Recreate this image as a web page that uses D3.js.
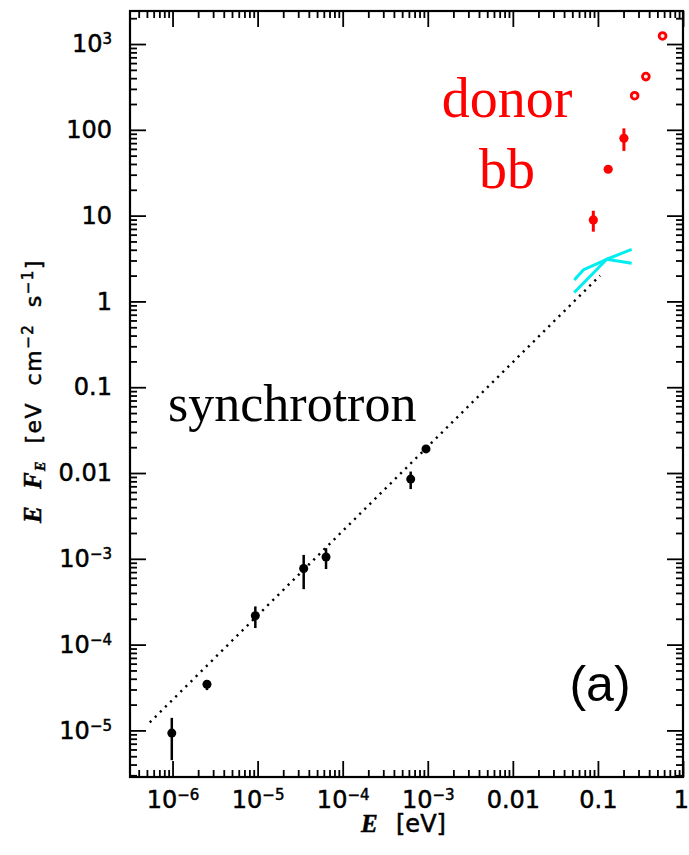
<!DOCTYPE html>
<html>
<head>
<meta charset="utf-8">
<script src="https://cdn.jsdelivr.net/npm/d3@7"></script>
<style>
  body { margin: 0; background: #fff; }
  svg { display: block; }
</style>
</head>
<body>
<svg id="chart" width="689" height="855"></svg>
<script>
// Synchrotron photometry (black points with 1-sigma bars)
const synchE  = [9.8e-7, 2.54e-6, 9.4e-6, 3.48e-5, 6.37e-5, 6.30e-4, 9.53e-4];
const synchF  = [9.3e-6, 3.45e-5, 2.17e-4, 7.7e-4, 1.05e-3, 8.5e-3, 1.91e-2];
const synchLo = [4.5e-6, 2.95e-5, 1.56e-4, 4.43e-4, 7.6e-4, 6.5e-3, 1.80e-2];
const synchHi = [1.40e-5, 3.75e-5, 2.79e-4, 1.11e-3, 1.33e-3, 1.04e-2, 2.02e-2];

// Donor star blackbody: filled points with bars, then open points
const donorE  = [0.0883, 0.132, 0.202];
const donorF  = [8.9, 34.7, 79.8];
const donorLo = [6.5, 32.5, 56.8];
const donorHi = [11.4, 37.0, 104];
const donorOpenE = [0.270, 0.366, 0.575];
const donorOpenF = [250, 417, 1242];

// Power-law bowtie (two crossing edges)
const bowUpperE = [0.0527, 0.0673, 0.127, 0.249];
const bowUpperF = [1.78, 2.33, 3.10, 2.79];
const bowLowerE = [0.0527, 0.127, 0.249];
const bowLowerF = [1.27, 3.10, 4.05];

// Synchrotron power-law model (dotted)
const modelE = [5.4e-7, 0.106];
const modelF = [1.24e-5, 2.0];

// Axis ticks and labels: [mantissa, exponent] pairs
const xTicks  = [1e-6, 1e-5, 1e-4, 1e-3, 0.01, 0.1, 1];
const xLabels = [["10", "−6"], ["10", "−5"], ["10", "−4"], ["10", "−3"], ["0.01"], ["0.1"], ["1"]];
const yTicks  = [1e-5, 1e-4, 1e-3, 0.01, 0.1, 1, 10, 100, 1000];
const yLabels = [["10", "−5"], ["10", "−4"], ["10", "−3"], ["0.01"], ["0.1"], ["1"], ["10"], ["100"], ["10", "3"]];

const svg = d3.select("#chart");
svg.append("rect").attr("width", 689).attr("height", 855).attr("fill", "#fff");

const L = 130, R = 683, T = 11, B = 777;
const x = d3.scaleLog().domain([Math.pow(10, -6.5), 1]).range([L, R]);
const y = d3.scaleLog().domain([Math.pow(10, -5.543), Math.pow(10, 3.385)]).range([B, T]);

function minorTicks(scale) {
  const [a, b] = scale.domain();
  const out = [];
  for (let d = Math.floor(Math.log10(a)); d <= Math.ceil(Math.log10(b)); d++) {
    for (let k = 2; k <= 9; k++) {
      const v = k * Math.pow(10, d);
      if (v > a && v < b) out.push(v);
    }
  }
  return out;
}
const xMinor = minorTicks(x);
const yMinor = minorTicks(y);

const MAJ = 16, MIN = 7;
const tickStroke = g => {
  g.select(".domain").remove();
  g.selectAll(".tick line").attr("stroke", "#000").attr("stroke-width", 1.8);
  g.selectAll(".tick text").remove();
};

// Inward ticks on all four sides
const axes = svg.append("g");
[[d3.axisBottom, `translate(0,${B})`, x, xTicks, MAJ], [d3.axisBottom, `translate(0,${B})`, x, xMinor, MIN],
 [d3.axisTop, `translate(0,${T})`, x, xTicks, MAJ], [d3.axisTop, `translate(0,${T})`, x, xMinor, MIN],
 [d3.axisLeft, `translate(${L},0)`, y, yTicks, MAJ], [d3.axisLeft, `translate(${L},0)`, y, yMinor, MIN],
 [d3.axisRight, `translate(${R},0)`, y, yTicks, MAJ], [d3.axisRight, `translate(${R},0)`, y, yMinor, MIN]
].forEach(([fn, tr, sc, vals, len]) => {
  axes.append("g").attr("transform", tr)
    .call(fn(sc).tickValues(vals).tickSizeInner(-len).tickSizeOuter(0).tickFormat(""))
    .call(tickStroke);
});

// Frame
svg.append("rect").attr("x", L).attr("y", T).attr("width", R - L).attr("height", B - T)
  .attr("fill", "none").attr("stroke", "#000").attr("stroke-width", 2.2);

// Tick labels with superscript exponents
const LABEL_FONT = "'DejaVu Sans', sans-serif";
function writeLabel(sel, parts) {
  sel.text(null);
  sel.append("tspan").text(parts[0]);
  if (parts.length > 1) {
    sel.append("tspan").attr("font-size", 15).attr("dy", -8).text(parts[1]);
  }
}
const xLab = svg.append("g").attr("transform", `translate(0,${B})`)
  .call(d3.axisBottom(x).tickValues(xTicks).tickSize(0).tickPadding(14).tickFormat(""));
xLab.select(".domain").remove();
xLab.selectAll(".tick text")
  .attr("font-family", LABEL_FONT).attr("font-size", 24).attr("fill", "#000")
  .attr("stroke", "#000").attr("stroke-width", 0.5)
  .attr("dx", d => d === 1 ? -2 : 0)
  .each(function (d, i) { writeLabel(d3.select(this), xLabels[i]); });

const yLab = svg.append("g").attr("transform", `translate(${L},0)`)
  .call(d3.axisLeft(y).tickValues(yTicks).tickSize(0).tickPadding(18).tickFormat(""));
yLab.select(".domain").remove();
yLab.selectAll(".tick text")
  .attr("font-family", LABEL_FONT).attr("font-size", 24).attr("fill", "#000")
  .attr("stroke", "#000").attr("stroke-width", 0.5)
  .each(function (d, i) { writeLabel(d3.select(this), yLabels[i]); });

// Axis titles
const SERIF = "'Liberation Serif', 'Times New Roman', serif";
const xt = svg.append("text").attr("x", 361).attr("y", 832)
  .attr("font-family", LABEL_FONT).attr("font-size", 24).attr("fill", "#000")
  .attr("stroke", "#000").attr("stroke-width", 0.5);
xt.append("tspan").attr("font-family", SERIF).attr("font-style", "italic").attr("font-weight", "bold")
  .attr("font-size", 25).text("E");
xt.append("tspan").attr("x", 396).text("[eV]");

const yt = svg.append("text")
  .attr("transform", "translate(41,523) rotate(-90)")
  .attr("font-family", LABEL_FONT).attr("font-size", 22).attr("fill", "#000")
  .attr("stroke", "#000").attr("stroke-width", 0.5)
  .attr("letter-spacing", 1.5).attr("word-spacing", 8);
yt.append("tspan").attr("font-family", SERIF).attr("font-style", "italic").attr("font-weight", "bold")
  .attr("font-size", 25).text("E ");
yt.append("tspan").attr("font-family", SERIF).attr("font-style", "italic").attr("font-weight", "bold")
  .attr("font-size", 25).text("F");
yt.append("tspan").attr("font-family", SERIF).attr("font-style", "italic").attr("font-weight", "bold")
  .attr("font-size", 14).attr("dy", 4).text("E");
yt.append("tspan").attr("dy", -4).text(" [eV cm");
yt.append("tspan").attr("font-size", 15).attr("dy", -8).text("−2");
yt.append("tspan").attr("dy", 8).text(" s");
yt.append("tspan").attr("font-size", 15).attr("dy", -8).text("−1");
yt.append("tspan").attr("dy", 8).text("]");

const plot = svg.append("g");

// Dotted model line
plot.append("path")
  .datum(modelE.map((e, i) => [e, modelF[i]]))
  .attr("d", d3.line().x(d => x(d[0])).y(d => y(d[1])))
  .attr("fill", "none").attr("stroke", "#000").attr("stroke-width", 2.4)
  .attr("stroke-dasharray", "2.2 5");

// Bowtie edges
const CYAN = "#00eef0";
[[bowUpperE, bowUpperF], [bowLowerE, bowLowerF]].forEach(([es, fs]) => {
  plot.append("path")
    .datum(es.map((e, i) => [e, fs[i]]))
    .attr("d", d3.line().x(d => x(d[0])).y(d => y(d[1])))
    .attr("fill", "none").attr("stroke", CYAN).attr("stroke-width", 3)
    .attr("stroke-linejoin", "round");
});

// Synchrotron points
const sync = plot.append("g");
sync.selectAll("line").data(synchE).join("line")
  .attr("x1", d => x(d)).attr("x2", d => x(d))
  .attr("y1", (d, i) => y(synchLo[i])).attr("y2", (d, i) => y(synchHi[i]))
  .attr("stroke", "#000").attr("stroke-width", 2.5);
sync.selectAll("circle").data(synchE).join("circle")
  .attr("cx", d => x(d)).attr("cy", (d, i) => y(synchF[i])).attr("r", 4.5)
  .attr("fill", "#000");

// Donor points
const RED = "#ff0000";
const donor = plot.append("g");
donor.selectAll("line").data(donorE).join("line")
  .attr("x1", d => x(d)).attr("x2", d => x(d))
  .attr("y1", (d, i) => y(donorLo[i])).attr("y2", (d, i) => y(donorHi[i]))
  .attr("stroke", RED).attr("stroke-width", 3);
donor.selectAll("circle.f").data(donorE).join("circle").attr("class", "f")
  .attr("cx", d => x(d)).attr("cy", (d, i) => y(donorF[i])).attr("r", 4.6)
  .attr("fill", RED);
donor.selectAll("circle.o").data(donorOpenE).join("circle").attr("class", "o")
  .attr("cx", d => x(d)).attr("cy", (d, i) => y(donorOpenF[i])).attr("r", 3.4)
  .attr("fill", "#ffe8e8").attr("stroke", RED).attr("stroke-width", 2.8);

// Annotations
svg.append("text").attr("x", 168).attr("y", 421)
  .attr("font-family", SERIF).attr("font-size", 52).attr("fill", "#000").text("synchrotron");
svg.append("text").attr("x", 507).attr("y", 117).attr("text-anchor", "middle")
  .attr("font-family", SERIF).attr("font-size", 56).attr("fill", RED).text("donor");
svg.append("text").attr("x", 507).attr("y", 188).attr("text-anchor", "middle")
  .attr("font-family", SERIF).attr("font-size", 56).attr("fill", RED).text("bb");
svg.append("text").attr("x", 600).attr("y", 701).attr("text-anchor", "middle")
  .attr("font-family", "'Liberation Sans', Arial, sans-serif").attr("font-size", 50)
  .attr("fill", "#000").text("(a)");
</script>
</body>
</html>
